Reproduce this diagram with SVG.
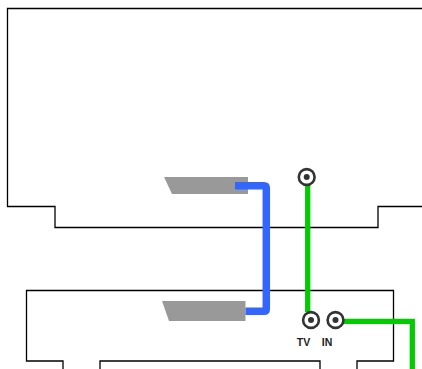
<svg xmlns="http://www.w3.org/2000/svg" width="422" height="369" viewBox="0 0 422 369">
<style>
.outline{fill:none;stroke:#000;stroke-width:1.3}
.port{fill:#999}
.cable{fill:none}
.blue{stroke:#36f;stroke-width:7.500}
.green{stroke:#0c0;stroke-width:5.300}
.ring{fill:#fff;stroke:#333;stroke-width:2.600}
.dot{fill:#333}
text{font-family:"Liberation Sans",Arial,sans-serif;font-size:10.500px;font-weight:bold;fill:#222;text-anchor:middle}
</style>
<rect width="422" height="369" fill="#fff"/>
<g id="tv">
<path class="outline" d="M422 8.500H7.500V206.500H55V227.500H378V206.500H422"/>
<polygon class="port" points="164,177 248,177 248,194 172,194"/>
</g>
<g id="receiver">
<path class="outline" d="M63 369V361H26.500V290.500H393.500V361H357V369M100 369V361H320V369"/>
<polygon class="port" points="162,301 245.500,301 245.500,321 169,321"/>
</g>
<g id="connectors">
<path class="cable blue" d="M235 185.700H264Q266.300 185.700 266.300 188V309Q266.300 311.300 264 311.300H245.500"/>
<path class="cable green" d="M307.700 180V312"/>
<path class="cable green" d="M340 321.300H412.300V369"/>
</g>
<g id="tv-jack">
<circle class="ring" cx="306.700" cy="177" r="7.900"/>
<circle class="dot" cx="306.700" cy="177" r="3"/>
</g>
<g id="jack-tv">
<circle class="ring" cx="311" cy="320" r="7.900"/>
<circle class="dot" cx="311" cy="320" r="3"/>
<text x="303.500" y="346">TV</text>
</g>
<g id="jack-in">
<circle class="ring" cx="335.500" cy="320" r="7.900"/>
<circle class="dot" cx="335.500" cy="320" r="3"/>
<text x="327" y="346">IN</text>
</g>
</svg>
